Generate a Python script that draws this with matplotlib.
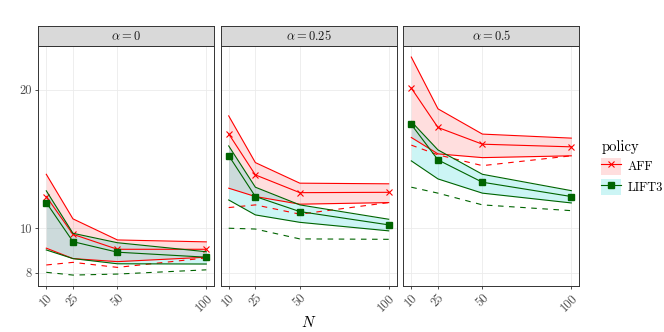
import matplotlib.pyplot as plt
from matplotlib.patches import Patch
from matplotlib.lines import Line2D
from matplotlib.ticker import FixedLocator, NullLocator

plt.rcParams['font.family'] = 'cmr10'
plt.rcParams['mathtext.fontset'] = 'cm'
plt.rcParams['axes.formatter.use_mathtext'] = True

N = [10, 25, 50, 100]
alphas = ['0', '0.25', '0.5']

# one row per alpha facet
aff_mean = [[11.72, 9.70, 9.00, 9.00],
            [16.04, 13.06, 11.95, 11.97],
            [20.17, 16.56, 15.23, 15.03]]
aff_upper = [[13.1, 10.48, 9.43, 9.34],
             [17.55, 13.89, 12.53, 12.49],
             [23.56, 18.18, 16.02, 15.70]]
aff_lower = [[9.05, 8.59, 8.46, 8.65],
             [12.22, 11.72, 11.28, 11.37],
             [15.75, 14.51, 14.24, 14.37]]
aff_dashed = [[8.32, 8.43, 8.22, 8.62],
              [11.09, 11.24, 10.73, 11.37],
              [15.16, 14.44, 13.68, 14.37]]

lift_mean = [[11.37, 9.35, 8.87, 8.65],
             [14.39, 11.72, 10.87, 10.17],
             [16.81, 14.08, 12.59, 11.72]]
lift_upper = [[12.06, 9.75, 9.30, 8.89],
              [15.1, 12.28, 11.24, 10.46],
              [17.06, 14.8, 13.1, 12.07]]
lift_lower = [[8.97, 8.59, 8.37, 8.36],
              [11.52, 10.69, 10.30, 9.87],
              [14.01, 12.80, 11.92, 11.35]]
lift_dashed = [[8.02, 7.91, 7.95, 8.12],
               [10.0, 9.96, 9.48, 9.46],
               [12.28, 11.92, 11.24, 10.92]]

y_ticks = [8, 10, 20]
x_ticks = [10, 25, 50, 100]

red = '#FF0000'
green = '#006400'
aff_fill = '#FF0000'
lift_fill = '#00CED1'

W, H = 664, 332
fig = plt.figure(figsize=(W / 100, H / 100), dpi=100)

lefts = [38.3, 220.7, 403.3]
pw = 176
top, bottom, strip_top = 46, 285.7, 26

for i, a in enumerate(alphas):
    ax = fig.add_axes([lefts[i] / W, (H - bottom) / H, pw / W, (bottom - top) / H])
    ax.set_yscale('log')
    ax.set_ylim(7.5, 24.9)
    ax.set_xlim(5.5, 104.5)
    ax.yaxis.set_major_locator(FixedLocator(y_ticks))
    ax.yaxis.set_minor_locator(NullLocator())
    ax.set_xticks(x_ticks)
    ax.grid(True, color='#EBEBEB', lw=0.6)
    ax.set_axisbelow(True)

    ax.fill_between(N, aff_lower[i], aff_upper[i], color=aff_fill, alpha=0.13, lw=0)
    ax.fill_between(N, lift_lower[i], lift_upper[i], color=lift_fill, alpha=0.2, lw=0)

    for s in (aff_upper, aff_lower):
        ax.plot(N, s[i], color=red, lw=0.8)
    ax.plot(N, aff_mean[i], color=red, lw=0.8, marker='x', ms=5, mew=0.8)
    ax.plot(N, aff_dashed[i], color=red, lw=0.8, ls=(0, (5, 5)))

    for s in (lift_upper, lift_lower):
        ax.plot(N, s[i], color=green, lw=0.8)
    ax.plot(N, lift_mean[i], color=green, lw=0.8, marker='s', ms=4)
    ax.plot(N, lift_dashed[i], color=green, lw=0.8, ls=(0, (5, 5)))

    for sp in ax.spines.values():
        sp.set_color('#333333')
        sp.set_linewidth(0.7)
    ax.tick_params(length=2.5, width=0.6, color='#333333', labelcolor='#4D4D4D',
                   labelsize=9, pad=2)
    ax.set_xticklabels([str(x) for x in x_ticks], rotation=45, ha='right',
                       va='top', rotation_mode='anchor')
    if i == 0:
        ax.set_yticklabels([str(y) for y in y_ticks])
    else:
        ax.set_yticklabels([])
        ax.tick_params(axis='y', length=0)
    if i == 1:
        ax.set_xlabel('$N$', fontsize=11, labelpad=1)

    sax = fig.add_axes([lefts[i] / W, (H - top) / H, pw / W, (top - strip_top) / H])
    sax.set_facecolor('#D9D9D9')
    sax.set_xticks([])
    sax.set_yticks([])
    for sp in sax.spines.values():
        sp.set_color('#333333')
        sp.set_linewidth(0.7)
    sax.text(0.5, 0.5, r'$\alpha = ' + a + '$', ha='center', va='center',
             fontsize=9, color='#1A1A1A', transform=sax.transAxes)

handles = [
    (Patch(facecolor=aff_fill, alpha=0.13, edgecolor='none'),
     Line2D([], [], color=red, lw=0.8, marker='x', ms=5, mew=0.8)),
    (Patch(facecolor=lift_fill, alpha=0.2, edgecolor='none'),
     Line2D([], [], color=green, lw=0.8, marker='s', ms=4)),
]
leg = fig.legend(handles, ['AFF', 'LIFT3'], title='policy', loc='upper left',
                 bbox_to_anchor=(590 / W, 1 - 129 / H), frameon=False,
                 fontsize=9, title_fontsize=10.5, handlelength=1.6, handleheight=1.7,
                 labelspacing=0.3, handletextpad=0.5)
leg._legend_box.align = 'left'

fig.savefig('out.png', dpi=100)
